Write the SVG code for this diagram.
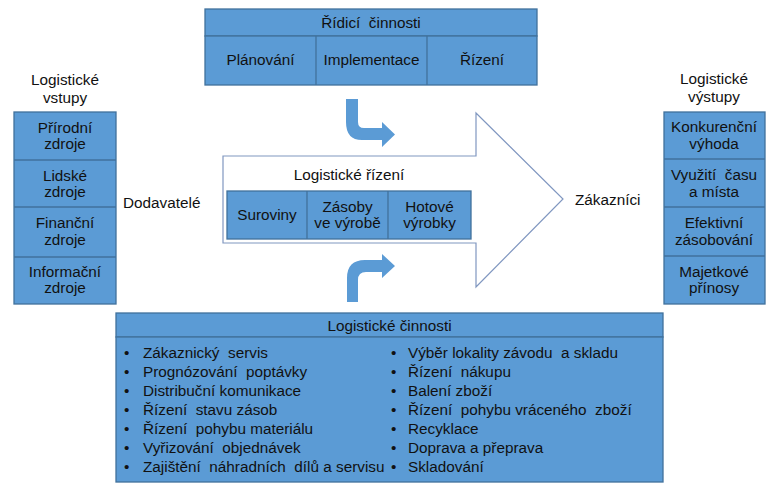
<svg xmlns="http://www.w3.org/2000/svg" width="780" height="489" viewBox="0 0 780 489">
<style>
.box{fill:#5B9BD5;stroke:#41719C;stroke-width:1.3}
.ln{stroke:#41719C;stroke-width:1.3;fill:none}
text{font-family:"Liberation Sans",Arial,sans-serif;font-size:15.3px;fill:#111;white-space:pre}
.c{text-anchor:middle}
.bent{fill:#5B9BD5}
</style>
<rect width="780" height="489" fill="#fff"/>

<g id="ridici-cinnosti">
<rect class="box" x="205" y="9" width="332" height="27"/>
<rect class="box" x="205" y="36" width="332" height="49"/>
<line class="ln" x1="316" y1="36" x2="316" y2="85"/>
<line class="ln" x1="427" y1="36" x2="427" y2="85"/>
<text class="c" x="371" y="28">Řídicí  činnosti</text>
<text class="c" x="260.5" y="65">Plánování</text>
<text class="c" x="371.5" y="65">Implementace</text>
<text class="c" x="482" y="65">Řízení</text>
</g>

<g id="logisticke-vstupy">
<text class="c" x="65" y="85">Logistické</text>
<text class="c" x="65" y="103">vstupy</text>
<rect class="box" x="14" y="112" width="102" height="192"/>
<line class="ln" x1="14" y1="160" x2="116" y2="160"/>
<line class="ln" x1="14" y1="207" x2="116" y2="207"/>
<line class="ln" x1="14" y1="257" x2="116" y2="257"/>
<text class="c" x="65" y="133">Přírodní</text>
<text class="c" x="65" y="149">zdroje</text>
<text class="c" x="65" y="181">Lidské</text>
<text class="c" x="65" y="197">zdroje</text>
<text class="c" x="65" y="228">Finanční</text>
<text class="c" x="65" y="245">zdroje</text>
<text class="c" x="65" y="277">Informační</text>
<text class="c" x="65" y="293">zdroje</text>
</g>

<g id="dodavatele">
<text x="123" y="208">Dodavatelé</text>
</g>

<g id="logisticke-rizeni">
<path d="M223,156 L476,156 L476,113 L563,199 L476,287 L476,243 L223,243 Z" fill="#fff" stroke="#8097C0" stroke-width="1.2"/>
<text class="c" x="349" y="180">Logistické řízení</text>
<rect class="box" x="227" y="191" width="244" height="48"/>
<line class="ln" x1="307" y1="191" x2="307" y2="239"/>
<line class="ln" x1="388" y1="191" x2="388" y2="239"/>
<text class="c" x="267" y="220">Suroviny</text>
<text class="c" x="347.5" y="212">Zásoby</text>
<text class="c" x="347.5" y="228">ve výrobě</text>
<text class="c" x="429.5" y="212">Hotové</text>
<text class="c" x="429.5" y="228">výrobky</text>
</g>

<g id="zakaznici">
<text x="575" y="205">Zákazníci</text>
</g>

<g id="logisticke-vystupy">
<text class="c" x="714" y="84">Logistické</text>
<text class="c" x="714" y="102">výstupy</text>
<rect class="box" x="664" y="112" width="101" height="192"/>
<line class="ln" x1="664" y1="159" x2="765" y2="159"/>
<line class="ln" x1="664" y1="207" x2="765" y2="207"/>
<line class="ln" x1="664" y1="256" x2="765" y2="256"/>
<text class="c" x="714" y="132">Konkurenční</text>
<text class="c" x="714" y="149">výhoda</text>
<text class="c" x="714" y="180">Využití  času</text>
<text class="c" x="714" y="197">a místa</text>
<text class="c" x="714" y="228">Efektivní</text>
<text class="c" x="714" y="245">zásobování</text>
<text class="c" x="714" y="277">Majetkové</text>
<text class="c" x="714" y="293">přínosy</text>
</g>

<g id="logisticke-cinnosti">
<rect class="box" x="116" y="313" width="547" height="24"/>
<rect class="box" x="116" y="337" width="547" height="145"/>
<text class="c" x="389.5" y="331">Logistické činnosti</text>
<g>
<text x="124" y="358">•</text><text x="143" y="358">Zákaznický  servis</text>
<text x="124" y="377">•</text><text x="143" y="377">Prognózování  poptávky</text>
<text x="124" y="396">•</text><text x="143" y="396">Distribuční komunikace</text>
<text x="124" y="415">•</text><text x="143" y="415">Řízení  stavu zásob</text>
<text x="124" y="434">•</text><text x="143" y="434">Řízení  pohybu materiálu</text>
<text x="124" y="453">•</text><text x="143" y="453">Vyřizování  objednávek</text>
<text x="124" y="472">•</text><text x="143" y="472">Zajištění  náhradních  dílů a servisu</text>
</g>
<g>
<text x="391" y="358">•</text><text x="408" y="358">Výběr lokality závodu  a skladu</text>
<text x="391" y="377">•</text><text x="408" y="377">Řízení  nákupu</text>
<text x="391" y="396">•</text><text x="408" y="396">Balení zboží</text>
<text x="391" y="415">•</text><text x="408" y="415">Řízení  pohybu vráceného  zboží</text>
<text x="391" y="434">•</text><text x="408" y="434">Recyklace</text>
<text x="391" y="453">•</text><text x="408" y="453">Doprava a přeprava</text>
<text x="391" y="472">•</text><text x="408" y="472">Skladování</text>
</g>
</g>

<g id="connectors">
<path class="bent" d="M346,99 L358,99 L358,122 Q358,128 364,128 L382,128 L382,122 L395,134.5 L382,147 L382,140 L362,140 Q346,140 346,122 Z"/>
<path class="bent" d="M347,302 L347,278 Q347,260 365,260 L382,260 L382,254 L395,266 L382,278 L382,272 L366,272 Q358,272 358,280 L358,302 Z"/>
</g>
</svg>
